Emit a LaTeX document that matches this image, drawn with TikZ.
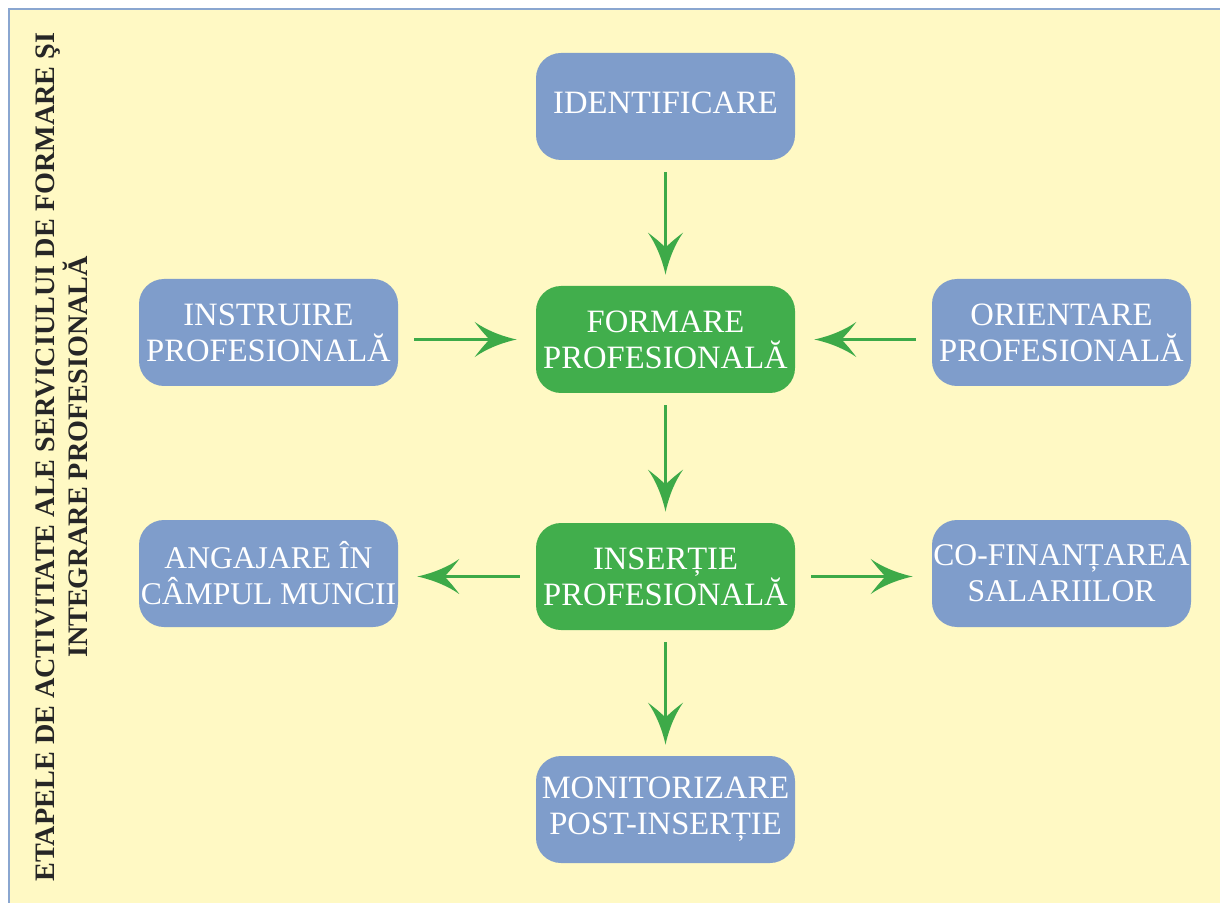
\documentclass[tikz,border=0pt]{standalone}
\usepackage{fontspec}
\setmainfont{Liberation Serif}
\usetikzlibrary{arrows.meta}
\definecolor{bgyellow}{HTML}{FFF9C4}
\definecolor{frameblue}{HTML}{8AA6D0}
\definecolor{boxblue}{HTML}{7F9DCB}
\definecolor{boxgreen}{HTML}{41AE4C}
\definecolor{arrgreen}{HTML}{3DAA48}
\pgfdeclarearrow{
  name = Swept,
  setup code = {
    \pgfarrowssettipend{0pt}
    \pgfarrowssetbackend{-21pt}
    \pgfarrowssetlineend{-11.5pt}
    \pgfarrowssetvisualbackend{-14pt}
  },
  drawing code = {
    \pgfsetfillcolor{arrgreen}
    \pgfpathmoveto{\pgfpoint{0pt}{0pt}}
    \pgfpathcurveto{\pgfpoint{-9pt}{2pt}}{\pgfpoint{-16pt}{5.3pt}}{\pgfpoint{-21pt}{8.8pt}}
    \pgfpathcurveto{\pgfpoint{-17pt}{3.5pt}}{\pgfpoint{-14.5pt}{1pt}}{\pgfpoint{-13.5pt}{0pt}}
    \pgfpathcurveto{\pgfpoint{-14.5pt}{-1pt}}{\pgfpoint{-17pt}{-3.5pt}}{\pgfpoint{-21pt}{-8.8pt}}
    \pgfpathcurveto{\pgfpoint{-16pt}{-5.3pt}}{\pgfpoint{-9pt}{-2pt}}{\pgfpoint{0pt}{0pt}}
    \pgfpathclose
    \pgfusepathqfill
  }
}
\begin{document}
\begin{tikzpicture}[x=0.5pt,y=-0.5pt,
  box/.style={rounded corners=12.5pt, minimum width=129.5pt, minimum height=53.5pt,
    align=center, text=white, inner sep=0pt, font=\fontsize{16.3}{18}\selectfont},
  bluebox/.style={box, fill=boxblue},
  greenbox/.style={box, fill=boxgreen},
  tight/.style={font=\fontsize{15.8}{18}\selectfont},
  flow/.style={draw=arrgreen, line width=1.5pt, -Swept},
  vgap/.style={shorten <=6pt, shorten >=5.5pt},
  hgap/.style={shorten <=8pt, shorten >=9.5pt}]
\useasboundingbox (0,0) rectangle (1220,903);
\fill[bgyellow] (9,9) rectangle (1230,910);
\draw[frameblue, line width=1.2pt] (9,912) -- (9,9) -- (1230,9);

\node[rotate=90, align=center, text=black!85, font=\bfseries\fontsize{14.1}{16.5}\selectfont] (title) at (62,457)
  {ETAPELE DE ACTIVITATE ALE SERVICIULUI DE FORMARE ŞI\\INTEGRARE PROFESIONALĂ};

\node[bluebox, text depth=4pt] (id) at (665.5,106.5) {IDENTIFICARE};
\node[greenbox] (form) at (665.5,339.5) {FORMARE\\PROFESIONALĂ};
\node[bluebox] (instr) at (268.5,332.5) {INSTRUIRE\\PROFESIONALĂ};
\node[bluebox] (orient) at (1061.5,332.5) {ORIENTARE\\PROFESIONALĂ};
\node[greenbox] (ins) at (665.5,576.5) {INSERȚIE\\PROFESIONALĂ};
\node[bluebox, tight] (ang) at (268.5,573.5) {ANGAJARE ÎN\\CÂMPUL MUNCII};
\node[bluebox, tight] (cofin) at (1061.5,573.5) {CO-FINANȚAREA\\SALARIILOR};
\node[bluebox] (mon) at (665.5,809.5) {MONITORIZARE\\POST-INSERȚIE};

\draw[flow, vgap] (id) -- (form);
\draw[flow, hgap] (instr.east |- form.center) -- (form.west);
\draw[flow, hgap] (orient.west |- form.center) -- (form.east);
\draw[flow, vgap] (form) -- (ins);
\draw[flow, hgap] (ins.west) -- (ang.east |- ins.center);
\draw[flow, hgap] (ins.east) -- (cofin.west |- ins.center);
\draw[flow, vgap] (ins) -- (mon);
\end{tikzpicture}
\end{document}
